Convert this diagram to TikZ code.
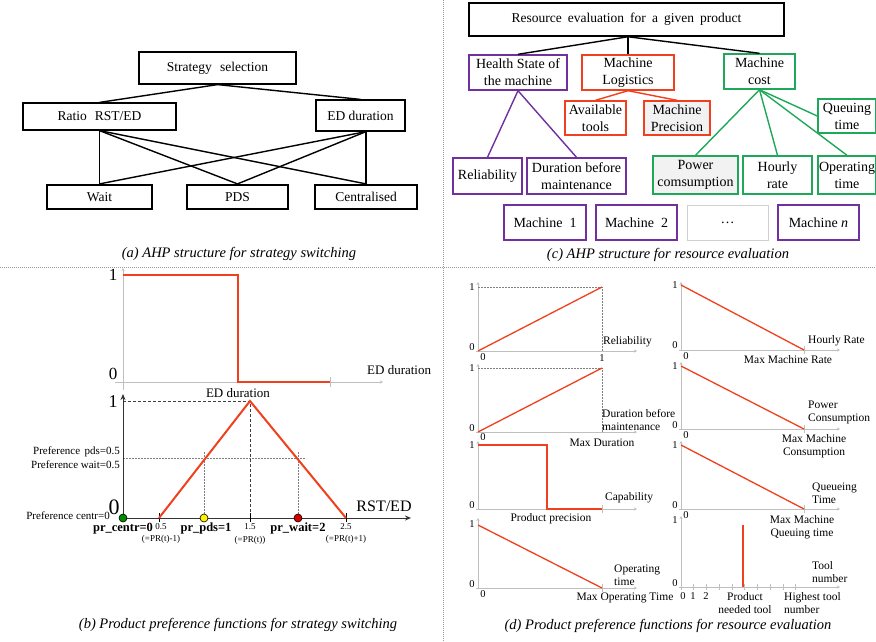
\documentclass[tikz,border=0pt]{standalone}
\usepackage{fontspec}
\setmainfont{Liberation Serif}
\usetikzlibrary{arrows.meta}
\definecolor{pur}{HTML}{7030A0}
\definecolor{rd}{HTML}{F0401E}
\definecolor{gr}{HTML}{1FA85A}
\definecolor{axg}{HTML}{BFBFBF}
\definecolor{boxfill}{HTML}{F2F2F2}
\definecolor{dotbox}{HTML}{D0D0D0}
\newcommand{\fsz}[2]{\fontsize{#1}{#2}\selectfont}
\tikzset{
  wh/.style 2 args={minimum width=#1pt,minimum height=#2pt},
  abox/.style={draw, line width=1.2pt, inner sep=0pt, align=center, font=\fsz{13.5}{17}},
  thickbox/.style={abox, line width=2.2pt},
  cbox/.style={draw, line width=1.4pt, inner sep=0pt, align=center, font=\fsz{14}{17}},
  conn/.style={line width=1.4pt},
  capt/.style={font=\fsz{14.5}{17}\itshape, inner sep=0pt},
  sepline/.style={draw=gray!80, line width=0.6pt, dash pattern=on 1pt off 1pt},
  axis/.style={draw=axg, line width=1pt, -{Stealth[length=3pt,width=3pt]}},
  bigaxis/.style={draw=black!80, line width=1pt, -{Stealth[length=6pt,width=5pt]}},
  redl/.style={draw=rd, line width=1.3pt},
  redb/.style={draw=rd, line width=2pt},
  dotl/.style={draw=gray, line width=0.6pt, dash pattern=on 1.5pt off 1.5pt},
  dashl/.style={draw=black!75, line width=0.7pt, dash pattern=on 3pt off 2pt},
  lab/.style={font=\fsz{11.5}{13}, inner sep=0pt, align=center},
  num/.style={font=\fsz{10.5}{12}, inner sep=0pt},
  dotc/.style={draw=black, line width=0.6pt},
}
\begin{document}
\begin{tikzpicture}[x=1pt,y=-1pt]
\useasboundingbox (0,0) rectangle (876,641);
\fill[white] (0,0) rectangle (876,641);
% separators
\draw[sepline] (0,267) -- (876,267);
\draw[sepline] (443,0) -- (443,641);

% ---------------- panel (a)
\node[abox, wh={157}{32}] (ss) at (217.5,68) {Strategy\hspace{0.6em}selection};
\node[abox, wh={153}{27}] (ratio) at (99.5,116.5) {Ratio\hspace{0.6em}RST/ED};
\node[abox, wh={89}{31}] (ed) at (360.5,115.5) {ED duration};
\node[thickbox, wh={105}{24}] (wait) at (99.5,197) {Wait};
\node[thickbox, wh={101}{24}] (pds) at (237.5,197) {PDS};
\node[thickbox, wh={102}{24}] (cent) at (366,197) {Centralised};
\coordinate (edb) at (ed.south -| cent.north);
\draw[conn] (ss.south) -- (ratio.north);
\draw[conn] (ss.south) -- (ed.north);
\draw[conn] (ratio.south) -- (wait.north);
\draw[conn] (ratio.south) -- (pds.north);
\draw[conn] (ratio.south) -- (cent.north);
\draw[conn] (edb) -- (wait.north);
\draw[conn] (edb) -- (pds.north);
\draw[conn] (edb) -- (cent.north);
\node[capt] (capa) at (239,254) {(a) AHP structure for strategy switching};

% ---------------- panel (c)
\node[cbox, wh={315}{33}, line width=1.5pt, font=\fsz{13.5}{17}] (re) at (626.5,19.5) {Resource\hspace{0.45em}evaluation\hspace{0.45em}for\hspace{0.45em}a\hspace{0.45em}given\hspace{0.45em}product};
\node[cbox, draw=pur, wh={98}{35}] (hs) at (518,72.5) {Health State of\\the machine};
\node[cbox, draw=rd, wh={92}{35}] (ml) at (628,72.5) {Machine\\Logistics};
\node[cbox, draw=gr, wh={71}{35}] (mc) at (759.5,71.5) {Machine\\cost};
\node[cbox, draw=rd, wh={61}{34}] (at) at (595.5,118) {Available\\tools};
\node[cbox, draw=rd, fill=boxfill, wh={66}{34}] (mp) at (677,118) {Machine\\Precision};
\node[cbox, draw=gr, wh={58}{34}] (qt) at (847,116) {Queuing\\time};
\node[cbox, draw=pur, wh={69}{36}] (rel) at (487.5,176) {Reliability};
\node[cbox, draw=pur, wh={99}{36}] (dbm) at (576.5,176) {Duration before\\maintenance};
\node[cbox, draw=gr, fill=boxfill, wh={85}{38}] (pc) at (695.5,175) {Power\\comsumption};
\node[cbox, draw=gr, wh={69}{38}] (hr) at (777.5,175) {Hourly\\rate};
\node[cbox, draw=gr, wh={58}{38}] (ot) at (847,175) {Operating\\time};
\node[cbox, draw=pur, wh={82}{35}] (m1) at (545,222.5) {Machine\hspace{0.5em}1};
\node[cbox, draw=pur, wh={81}{35}] (m2) at (636.5,222.5) {Machine\hspace{0.5em}2};
\node[cbox, draw=dotbox, line width=1pt, wh={81}{35}] (mdots) at (727.5,222.5) {\dots};
\node[cbox, draw=pur, wh={81}{35}] (mn) at (818.5,222.5) {Machine \textit{n}};
\coordinate (reb) at (re.south -| ml.north);
\draw[conn] (reb) -- (hs.north);
\draw[conn] (reb) -- (ml.north);
\draw[conn] (reb) -- (mc.north);
\draw[conn, draw=rd] (ml.south) -- (at.north);
\draw[conn, draw=rd] (ml.south) -- (mp.north);
\draw[conn, draw=pur] (hs.south) -- (rel.north);
\draw[conn, draw=pur] (hs.south) -- (dbm.north);
\draw[conn, draw=gr] (mc.south) -- (qt.west);
\draw[conn, draw=gr] (mc.south) -- (pc.north);
\draw[conn, draw=gr] (mc.south) -- (hr.north);
\draw[conn, draw=gr] (mc.south) -- (ot.north);
\node[capt] (capc) at (668,255) {(c) AHP structure for resource evaluation};

% ---------------- panel (b) top plot
\draw[axis] (123,390) -- (123,268);
\draw[axis] (115,382) -- (383,382);
\draw[draw=axg, line width=1pt] (330,377) -- (330,387);
\draw[redb] (123,275) -- (238,275) -- (238,382) -- (330,382);
\node[font=\fsz{17}{18}, inner sep=0pt] (b1) at (113,275) {1};
\node[font=\fsz{17}{18}, inner sep=0pt] (b0) at (113,374) {0};
\node[font=\fsz{13}{15}, inner sep=0pt, anchor=west] (bed) at (367,370) {ED duration};

% ---------------- panel (b) bottom plot
\draw[dashl] (123,401) -- (250,401) -- (250,518);
\draw[dotl] (123,458) -- (306,458);
\draw[dotl] (204,452) -- (204,518);
\draw[dotl] (298,452) -- (298,518);
\draw[bigaxis] (123,518) -- (123,394);
\draw[bigaxis] (119,518) -- (411,518);
\foreach \tx in {159,250,346} \draw[black, line width=0.7pt] (\tx,513) -- (\tx,522);
\draw[redb] (159,518) -- (250,401) -- (346,518);
\node[font=\fsz{13}{15}, inner sep=0pt] (bed2) at (238,393) {ED duration};
\node[font=\fsz{18}{19}, inner sep=0pt] (c1) at (113,402) {1};
\node[font=\fsz{22}{23}, inner sep=0pt] (c0) at (114,507) {0};
\node[font=\fsz{16}{17}, inner sep=0pt] (rst) at (384,506) {RST/ED};
\node[font=\fsz{11}{13}, inner sep=0pt, anchor=east] (ppds) at (120,452) {Preference\hspace{0.4em}pds=0.5};
\node[font=\fsz{11}{13}, inner sep=0pt, anchor=east] (pwait) at (120,465) {Preference wait=0.5};
\node[font=\fsz{11}{13}, inner sep=0pt, anchor=east] (pcent) at (110,516) {Preference centr=0};
\node[font=\fsz{9}{10}, inner sep=0pt] (t05) at (161,527) {0.5};
\node[font=\fsz{9}{10}, inner sep=0pt] (t15) at (250,527) {1.5};
\node[font=\fsz{9}{10}, inner sep=0pt] (t25) at (346,527) {2.5};
\node[font=\fsz{9}{10}, inner sep=0pt] (p05) at (161,539) {(=PR(t)-1)};
\node[font=\fsz{9}{10}, inner sep=0pt] (p15) at (250,540) {(=PR(t))};
\node[font=\fsz{9}{10}, inner sep=0pt] (p25) at (346,539) {(=PR(t)+1)};
\node[font=\fsz{12.5}{14}\bfseries, inner sep=0pt] (lcent) at (123,529) {pr\_centr=0};
\node[font=\fsz{12.5}{14}\bfseries, inner sep=0pt] (lpds) at (206,528) {pr\_pds=1};
\node[font=\fsz{12.5}{14}\bfseries, inner sep=0pt] (lwait) at (298,528) {pr\_wait=2};
\filldraw[dotc, fill=green!55!black] (123,518) circle (4);
\filldraw[dotc, fill=yellow] (204,518) circle (4);
\filldraw[dotc, fill=red!85!black] (298,518) circle (4);
\node[capt] (capb) at (238,625) {(b) Product preference functions for strategy switching};

% ---------------- panel (d) left column
% reliability
\draw[axis] (478,351) -- (478,282);
\draw[axis] (476,351) -- (637,351);
\draw[dotl] (478,287) -- (602,287) -- (602,351);
\draw[redl] (478,351) -- (602,287);
\node[num] (d11) at (472,287) {1};
\node[num] (d10) at (472,347) {0};
\node[num] (d1x0) at (483,357) {0};
\node[num] (d1x1) at (602,358) {1};
\node[lab, anchor=west] (lrel) at (603,342) {Reliability};
% duration
\draw[axis] (478,432) -- (478,364);
\draw[axis] (476,432) -- (637,432);
\draw[dotl] (478,368) -- (602,368) -- (602,432);
\draw[redl] (478,432) -- (602,368);
\node[num] (d21) at (472,368) {1};
\node[num] (d20) at (472,428) {0};
\node[num] (d2x0) at (483,437) {0};
\node[lab, anchor=west, align=left] (ldur) at (602,420) {Duration before\\maintenance};
\node[lab] (lmaxd) at (602,443) {Max Duration};
% capability
\draw[axis] (478,509) -- (478,441);
\draw[axis] (476,509) -- (637,509);
\draw[draw=axg, line width=1pt] (602,505) -- (602,513);
\draw[redl] (478,445) -- (547,445) -- (547,509) -- (602,509);
\node[num] (d31) at (472,445) {1};
\node[num] (d30) at (472,505) {0};
\node[lab, anchor=west] (lcap) at (605,498) {Capability};
\node[lab] (lpp) at (551,519) {Product precision};
% operating
\draw[axis] (478,588) -- (478,518);
\draw[axis] (476,588) -- (637,588);
\draw[draw=axg, line width=1pt] (602,584) -- (602,592);
\draw[redl] (478,525) -- (602,588);
\node[num] (d41) at (472,524) {1};
\node[num] (d40) at (472,584) {0};
\node[num] (d4x0) at (483,594) {0};
\node[lab, anchor=west, align=left] (lot) at (614,575) {Operating\\time};
\node[lab] (lmot) at (625,598) {Max Operating Time};

% ---------------- panel (d) right column
% hourly rate
\draw[axis] (681,350) -- (681,282);
\draw[axis] (679,350) -- (840,350);
\draw[draw=axg, line width=1pt] (804,346) -- (804,354);
\draw[redl] (681,285) -- (804,350);
\node[num] (e11) at (675,285) {1};
\node[num] (e10) at (675,345) {0};
\node[num] (e1x0) at (686,356) {0};
\node[lab, anchor=west] (lhr) at (808,341) {Hourly Rate};
\node[lab] (lmmr) at (788,360) {Max Machine Rate};
% power
\draw[axis] (681,429) -- (681,362);
\draw[axis] (679,429) -- (840,429);
\draw[draw=axg, line width=1pt] (804,425) -- (804,433);
\draw[redl] (681,366) -- (804,429);
\node[num] (e21) at (675,366) {1};
\node[num] (e20) at (675,425) {0};
\node[num] (e2x0) at (686,435) {0};
\node[lab, anchor=west, align=left] (lpow) at (808,412) {Power\\Consumption};
\node[lab] (lmmc) at (814,446) {Max Machine\\Consumption};
% queueing
\draw[axis] (681,509) -- (681,441);
\draw[axis] (679,509) -- (840,509);
\draw[draw=axg, line width=1pt] (804,505) -- (804,513);
\draw[redl] (681,445) -- (804,509);
\node[num] (e31) at (675,445) {1};
\node[num] (e30) at (675,505) {0};
\node[num] (e3x0) at (686,515) {0};
\node[lab, anchor=west, align=left] (lqt) at (812,493) {Queueing\\Time};
\node[lab] (lmmq) at (802,527) {Max Machine\\Queuing time};
% tool number
\draw[axis] (681,587) -- (681,516);
\draw[axis] (679,587) -- (840,587);
\foreach \tx in {681,693,706,719,732,744,757,770,783,795} \draw[draw=axg, line width=0.8pt] (\tx,584) -- (\tx,590);
\draw[redl] (743,525) -- (743,587);
\node[num] (e41) at (675,520) {1};
\node[num] (e40) at (675,583) {0};
\node[num] (e4x0) at (683,596) {0};
\node[num] (e4x1) at (693,596) {1};
\node[num] (e4x2) at (706,596) {2};
\node[lab] (lpnt) at (745,603) {Product\\needed tool};
\node[lab, anchor=west, align=left] (lhtn) at (784,603) {Highest tool\\number};
\node[lab, anchor=west, align=left] (ltn) at (812,572) {Tool\\number};
\node[capt] (capd) at (668,626) {(d) Product preference functions for resource evaluation};
\end{tikzpicture}
\end{document}
